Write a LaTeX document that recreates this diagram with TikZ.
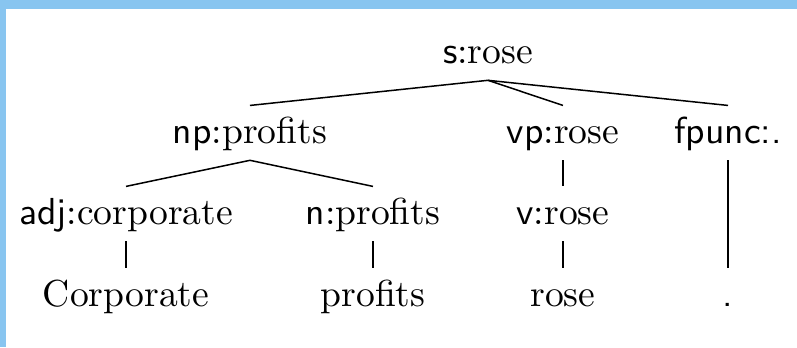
\documentclass[tikz,border=0pt]{standalone}
\usepackage{tikz}
\usetikzlibrary{positioning}
\definecolor{framebl}{HTML}{88C5F0}

\begin{document}
\begin{tikzpicture}[lbl/.style={anchor=base, text height=7.8pt, text depth=2.4pt, inner ysep=2pt}]
			% Frame
			\useasboundingbox (0,0) rectangle (7.451,-3.244);
			\fill[framebl] (0,0) rectangle (7.451,-0.084);
			\fill[framebl] (0,0) rectangle (0.056,-3.244);
			% Sentence
			\node[lbl] (s) at (4.562,-0.589) {\textsf{s}:rose};
			% Phrases
			\node[lbl] (np) at (2.337,-1.337) {\textsf{np}:profits};
			\node[lbl] (vp) at (5.263,-1.337) {\textsf{vp}:rose};
			\node[lbl] (fp) at (6.806,-1.337) {\textsf{fpunc:.}};
			% Words
			\node[lbl] (adj) at (1.178,-2.094) {\textsf{adj}:corporate};
			\node[lbl] (n) at (3.487,-2.094) {\textsf{n}:profits};
			\node[lbl] (v) at (5.263,-2.094) {\textsf{v}:rose};
			% Tokens
			\node[lbl] (w1) at (1.178,-2.861) {Corporate};
			\node[lbl] (w2) at (3.487,-2.861) {profits};
			\node[lbl] (w3) at (5.263,-2.861) {rose};
			\node[lbl] (w4) at (6.806,-2.861) {\textsf{.}};
			% Branches
			\draw (s.south) -- (np.north);
			\draw (s.south) -- (vp.north);
			\draw (s.south) -- (fp.north);
			\draw (np.south) -- (adj.north);
			\draw (np.south) -- (n.north);
			\draw (vp.south) -- (v.north);
			\draw (fp.south) -- (w4.north);
			\foreach \a/\b in {adj/w1, n/w2, v/w3}
			\draw (\a.south) -- (\b.north);
		\end{tikzpicture}
\end{document}
